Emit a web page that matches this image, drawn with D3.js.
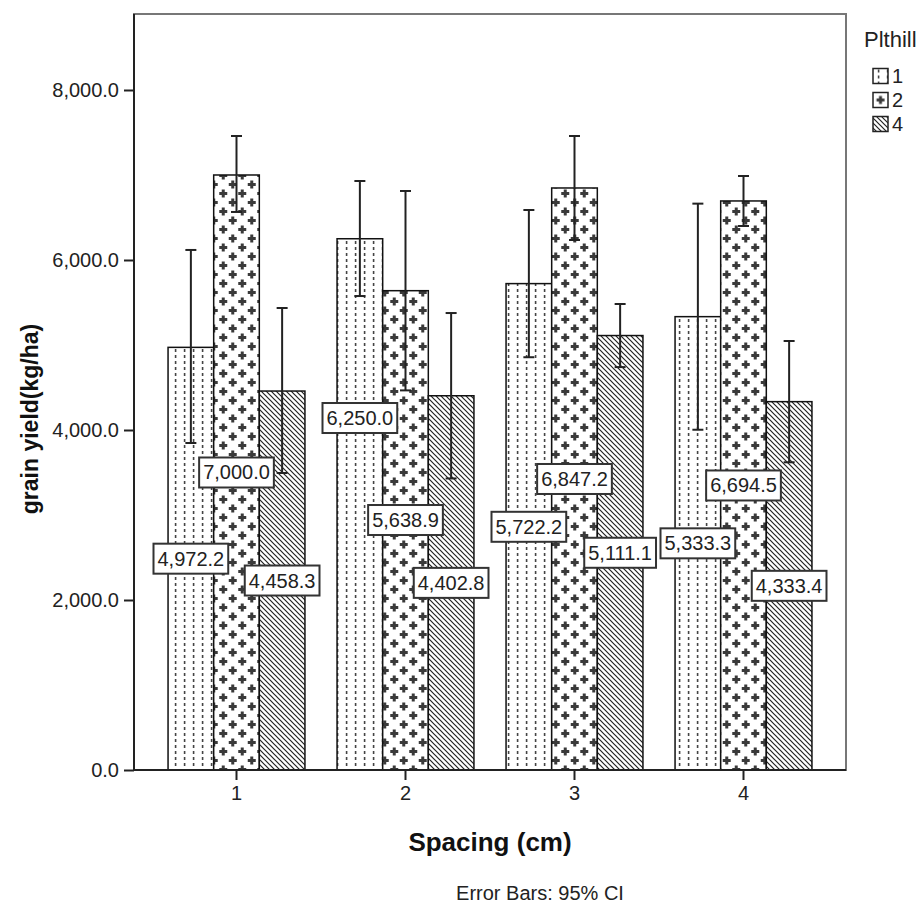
<!DOCTYPE html>
<html>
<head>
<meta charset="utf-8">
<script src="https://cdn.jsdelivr.net/npm/d3@7"></script>
<style>
  html, body { margin: 0; padding: 0; background: #fff; }
  svg { display: block; font-family: "Liberation Sans", Arial, sans-serif; }
</style>
</head>
<body>
<svg id="chart" width="919" height="907"></svg>
<script>
// ---- data ----
const spacing = ["1", "2", "3", "4"];
const plthill = ["1", "2", "4"];
const meanP1 = [4972.2, 6250.0, 5722.2, 5333.3];
const meanP2 = [7000.0, 5638.9, 6847.2, 6694.5];
const meanP4 = [4458.3, 4402.8, 5111.1, 4333.4];
const lowP1  = [3847, 5576, 4856, 4003];
const highP1 = [6118, 6929, 6588, 6663];
const lowP2  = [6565, 4466, 6235, 6400];
const highP2 = [7459, 6812, 7459, 6988];
const lowP4  = [3494, 3430, 4740, 3620];
const highP4 = [5435, 5376, 5482, 5047];
const yTicks = [0, 2000, 4000, 6000, 8000];
// value (in kg/ha) at which a data label sits when it was moved off the bar middle to avoid overlap
const labelAtP1 = [null, 4141, null, null];
const labelAtP2 = [null, 2941, null, null];
const labelAtP4 = [null, null, null, null];

const means = [meanP1, meanP2, meanP4];
const lows = [lowP1, lowP2, lowP4];
const highs = [highP1, highP2, highP4];
const labelAts = [labelAtP1, labelAtP2, labelAtP4];

const rows = [];
spacing.forEach((s, i) => {
  plthill.forEach((p, j) => {
    const la = labelAts[j][i];
    rows.push({ s, p, j, mean: means[j][i], lo: lows[j][i], hi: highs[j][i],
      labelAt: la == null ? means[j][i] / 2 : la });
  });
});

const svg = d3.select("#chart");
const L = 134, R = 846, T = 14, B = 770;

// patterns
const defs = svg.append("defs");
function makeP1(id, ox, oy) {
  const p = defs.append("pattern").attr("id", id).attr("patternUnits", "userSpaceOnUse")
    .attr("width", 9).attr("height", 6).attr("x", ox).attr("y", oy);
  p.append("rect").attr("width", 9).attr("height", 6).attr("fill", "#fff");
  p.append("rect").attr("x", 3.8).attr("y", 1).attr("width", 1.6).attr("height", 3).attr("fill", "#444");
}
function makeP2(id, ox, oy) {
  const p = defs.append("pattern").attr("id", id).attr("patternUnits", "userSpaceOnUse")
    .attr("width", 19).attr("height", 18).attr("x", ox).attr("y", oy);
  p.append("rect").attr("width", 19).attr("height", 18).attr("fill", "#fff");
  [[4.75, 4.5], [14.25, 13.5]].forEach(([cx, cy]) => {
    p.append("rect").attr("x", cx - 4).attr("y", cy - 1.5).attr("width", 8).attr("height", 3).attr("fill", "#3a3a3a");
    p.append("rect").attr("x", cx - 1.5).attr("y", cy - 4).attr("width", 3).attr("height", 8).attr("fill", "#3a3a3a");
  });
}
function makeP3(id) {
  const p = defs.append("pattern").attr("id", id).attr("patternUnits", "userSpaceOnUse")
    .attr("width", 5).attr("height", 5);
  p.append("rect").attr("width", 5).attr("height", 5).attr("fill", "#fff");
  p.append("path").attr("d", "M-1,-1 L6,6 M-1,4 L1,6 M4,-1 L6,1")
    .attr("stroke", "#222").attr("stroke-width", 1.2);
}
makeP1("pat1", 0, 0);
makeP2("pat2", 0, 0);
makeP3("pat3");
const fills = ["url(#pat1)", "url(#pat2)", "url(#pat3)"];

// scales
const y = d3.scaleLinear().domain([0, 8894]).range([B, T]);
const x0 = d3.scaleBand().domain(spacing).range([L, R]).paddingInner(0.19).paddingOuter(0.2015);
const x1 = d3.scaleBand().domain(plthill).range([0, x0.bandwidth()]).padding(0);

// frame
svg.append("rect").attr("x", L).attr("y", T).attr("width", R - L).attr("height", B - T)
  .attr("fill", "#fff").attr("stroke", "#777").attr("stroke-width", 2);

// bars
const g = svg.append("g");
g.selectAll("rect.bar").data(rows).join("rect")
  .attr("class", "bar")
  .attr("x", d => x0(d.s) + x1(d.p))
  .attr("y", d => y(d.mean))
  .attr("width", x1.bandwidth())
  .attr("height", d => y(0) - y(d.mean))
  .attr("fill", d => fills[d.j])
  .attr("stroke", "#111").attr("stroke-width", 1.5);

// error bars
const eb = svg.append("g").attr("stroke", "#222").attr("stroke-width", 2);
rows.forEach(d => {
  const cx = x0(d.s) + x1(d.p) + x1.bandwidth() / 2;
  eb.append("line").attr("x1", cx).attr("x2", cx).attr("y1", y(d.lo)).attr("y2", y(d.hi));
  eb.append("line").attr("x1", cx - 5.5).attr("x2", cx + 5.5).attr("y1", y(d.hi)).attr("y2", y(d.hi));
  eb.append("line").attr("x1", cx - 5.5).attr("x2", cx + 5.5).attr("y1", y(d.lo)).attr("y2", y(d.lo));
});

// axes
const yAxis = svg.append("g").attr("transform", `translate(${L},0)`)
  .call(d3.axisLeft(y).tickValues(yTicks).tickFormat(d3.format(",.1f")).tickSize(10).tickSizeOuter(0).tickPadding(5));
yAxis.select(".domain").attr("stroke", "#222").attr("stroke-width", 2).attr("d", `M0,${T}V${B}`);
yAxis.selectAll(".tick line").attr("stroke", "#222").attr("stroke-width", 2);
yAxis.selectAll(".tick text").attr("font-size", 20).attr("fill", "#222").attr("font-family", "Liberation Sans, Arial, sans-serif");

const xAxis = svg.append("g").attr("transform", `translate(0,${B})`)
  .call(d3.axisBottom(x0).tickSize(10).tickSizeOuter(0).tickPadding(6));
xAxis.select(".domain").attr("stroke", "#222").attr("stroke-width", 2).attr("d", `M${L},0H${R}`);
xAxis.selectAll(".tick line").attr("stroke", "#222").attr("stroke-width", 2);
xAxis.selectAll(".tick text").attr("font-size", 20).attr("fill", "#222").attr("font-family", "Liberation Sans, Arial, sans-serif");

// value labels
const fmt = d3.format(",.1f");
const lab = svg.append("g");
rows.forEach(d => {
  const cx = x0(d.s) + x1(d.p) + x1.bandwidth() / 2;
  const cy = y(d.labelAt);
  const t = lab.append("text").attr("x", cx).attr("y", cy).attr("text-anchor", "middle")
    .attr("dominant-baseline", "central").attr("font-size", 20).attr("fill", "#222").text(fmt(d.mean));
  const w = t.node().getComputedTextLength();
  lab.insert("rect", "text:last-child")
    .attr("x", cx - w / 2 - 4).attr("y", cy - 15).attr("width", w + 8).attr("height", 30)
    .attr("fill", "#fff").attr("stroke", "#333").attr("stroke-width", 2);
});

// axis titles
svg.append("text").attr("transform", `translate(38,419) rotate(-90)`).attr("text-anchor", "middle")
  .attr("font-size", 23).attr("font-weight", "bold").attr("fill", "#111").text("grain yield(kg/ha)");
svg.append("text").attr("x", 490).attr("y", 851).attr("text-anchor", "middle")
  .attr("font-size", 26).attr("font-weight", "bold").attr("fill", "#111").text("Spacing (cm)");
svg.append("text").attr("x", 540).attr("y", 900).attr("text-anchor", "middle")
  .attr("font-size", 20).attr("fill", "#222").text("Error Bars: 95% CI");

// legend
svg.append("text").attr("x", 864).attr("y", 47).attr("font-size", 22).attr("fill", "#222").text("Plthill");
const lg = svg.append("g");
plthill.forEach((p, j) => {
  const cy = 76 + j * 24;
  const sx = 873, sy = cy - 7.5;
  let fill = fills[j];
  if (j === 0) { makeP1("lpat1_" + j, sx + 1, sy); fill = "url(#lpat1_" + j + ")"; }
  if (j === 1) { makeP2("lpat2_" + j, sx + 7.5 - 4.75, sy + 7.5 - 4.5); fill = "url(#lpat2_" + j + ")"; }
  lg.append("rect").attr("x", sx).attr("y", sy).attr("width", 15).attr("height", 15)
    .attr("fill", fill).attr("stroke", "#222").attr("stroke-width", 1.5);
  lg.append("text").attr("x", 892).attr("y", cy).attr("dominant-baseline", "central")
    .attr("font-size", 20).attr("fill", "#222").text(p);
});
</script>
</body>
</html>
